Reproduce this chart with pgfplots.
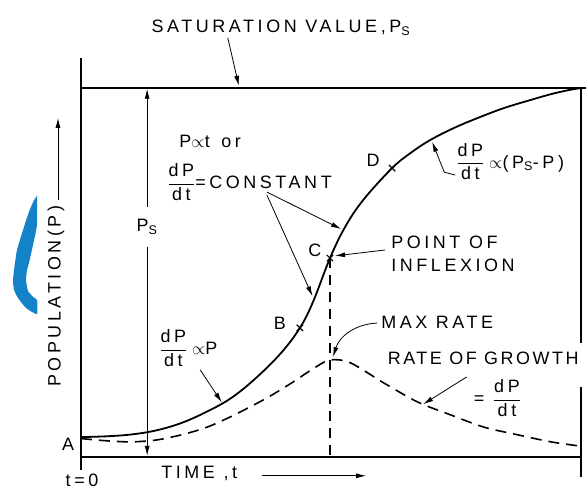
\documentclass[border=0pt]{standalone}
\usepackage{fontspec}
\setmainfont{Liberation Sans}[LetterSpace=20]
\usepackage{amsmath}
\usepackage{pgfplots}
\pgfplotsset{compat=1.18}
\usetikzlibrary{arrows.meta}
\definecolor{mblue}{RGB}{20,130,200}
\begin{document}
\begin{tikzpicture}[font=\fontsize{18}{20}\selectfont, >={Latex[length=10bp,width=5bp]}, every node/.style={inner sep=1bp}]
\begin{axis}[x=50.1bp, y=3.69bp, xmin=0, xmax=10, ymin=0, ymax=100, hide axis, clip=false]
% blue mark
\addplot[draw=none, fill=mblue, smooth, tension=0.3] coordinates {(-0.878,70.8)(-0.938,69.6)(-1.038,66.5)(-1.158,61.5)(-1.278,56.1)(-1.318,52.6)(-1.358,48.0)(-1.337,45.3)(-1.258,43.1)(-1.098,40.4)(-0.878,38.7)(-0.878,42.5)(-0.958,43.4)(-1.058,45.0)(-1.098,48.0)(-1.078,50.7)(-1.038,52.6)(-0.958,57.5)(-0.878,62.9)(-0.878,70.8)} -- cycle;
% frame
\draw[line width=1.4bp] (0,108.1) -- (0,-3.5);
\draw[line width=1.4bp] (0,100) -- (10.1,100);
\draw[line width=1.4bp] (0,0) -- (9.98,0);
\draw[line width=1.4bp] (9.98,100) -- (9.98,30.9);
\draw[line width=1.4bp] (9.98,19.0) -- (9.98,-5.4);
% population curve
\addplot[line width=1.8bp, smooth, tension=0.6] coordinates {(0,5.4)(0.5,5.6)(1.0,6.1)(1.5,7.2)(2.0,9.2)(2.5,12.2)(3.0,16.0)(3.5,21.5)(4.0,28.3)(4.37,35.0)(4.63,42.0)(4.97,53.9)(5.27,62.3)(5.63,69.6)(6.21,78.3)(6.6,82.6)(6.97,85.9)(7.45,89.2)(7.96,92.1)(8.45,94.6)(8.96,96.7)(9.4,98.4)(9.76,99.5)(10,100)};
% rate of growth curve
\addplot[line width=1.6bp, dash pattern=on 11bp off 7bp, smooth, tension=0.5] coordinates {(0,5.0)(0.5,4.4)(1.0,4.1)(1.5,4.6)(2.0,6.0)(2.5,8.0)(3.03,11.2)(3.71,16.0)(4.23,20.3)(4.63,23.9)(4.97,26.3)(5.38,25.5)(6.04,20.1)(6.72,14.9)(7.38,11.4)(8.04,8.1)(8.72,6.0)(9.38,4.1)(9.94,3.0)};
% B, C, D marks
\addplot[only marks, mark=x, mark size=4.5bp, mark options={line width=1.2bp}] coordinates {(4.37,35.0)(4.97,53.9)(6.21,78.3)};
% inflexion vertical
\draw[line width=1.3bp, dash pattern=on 10bp off 7bp] (4.97,53.9) -- (4.97,-0.5);
% saturation
\node at (3.99,116.3) {SATURATION VALUE,P\textsubscript{S}};
\draw[->, line width=0.8bp] (2.93,113.6) -- (3.15,100.6);
% Ps arrows
\draw[->, line width=0.9bp] (1.32,57) -- (1.32,0.3);
\draw[->, line width=0.9bp] (1.32,67.8) -- (1.32,99.8);
\node at (1.32,62.4) {P\textsubscript{S}};
% y label
\node[rotate=90] at (-0.50,43.6) {POPULATION(P)};
\draw[->, line width=0.9bp] (-0.46,69.6) -- (-0.46,91.9);
% constant
\node[anchor=west] at (1.94,85.4) {P$\propto$t\, or};
\node[anchor=west] at (1.70,74.5) {$\dfrac{\text{dP}}{\text{dt}}$=CONSTANT};
\draw[->, line width=0.8bp] (3.71,71.8) -- (5.19,61.8);
\draw[->, line width=0.8bp] (3.71,71.0) -- (4.62,43.6);
% letters
\node at (4.67,56.1) {C};
\node at (3.97,36.3) {B};
\node at (5.83,80.5) {D};
% inflexion
\node[anchor=west] at (6.17,58.3) {POINT OF};
\node[anchor=west] at (6.17,52.0) {INFLEXION};
\draw[->, line width=0.8bp] (6.07,56.1) -- (5.07,54.5);
% Ps-P
\node[anchor=west] at (7.47,80.0) {$\dfrac{\text{dP}}{\text{dt}}\propto$(P\textsubscript{S}-P)};
\draw[->, line width=0.8bp] (7.47,76.4) -- (7.25,77.2) -- (7.01,85.4);
% max rate
\node[anchor=west] at (5.97,36.6) {MAX RATE};
\draw[->, line width=0.8bp] (5.91,36.3) to[bend right=35] (5.03,27.1);
% rate of growth
\node[anchor=west] at (6.10,26.8) {\addfontfeature{LetterSpace=14}RATE OF GROWTH};
\node[anchor=west] at (7.82,16.0) {= $\dfrac{\text{dP}}{\text{dt}}$};
\draw[->, line width=0.8bp] (7.70,21.7) -- (6.83,14.3);
% dP/dt prop P
\node[anchor=west] at (1.54,29.5) {$\dfrac{\text{dP}}{\text{dt}}\propto$P};
\draw[->, line width=0.8bp] (2.38,23.6) -- (2.81,14.8);
% bottom
\node at (-0.26,3.5) {A};
\node at (0.02,-6.3) {t=0};
\node[anchor=west] at (1.58,-4.6) {TIME ,t};
\draw[->, line width=0.8bp] (3.61,-5.1) -- (5.69,-5.1);
\coordinate (bl) at (-1.617,-8.67);
\coordinate (tr) at (10.08,123.85);
\end{axis}
\pgfresetboundingbox
\path[use as bounding box] (bl) rectangle (tr);
\end{tikzpicture}
\end{document}
